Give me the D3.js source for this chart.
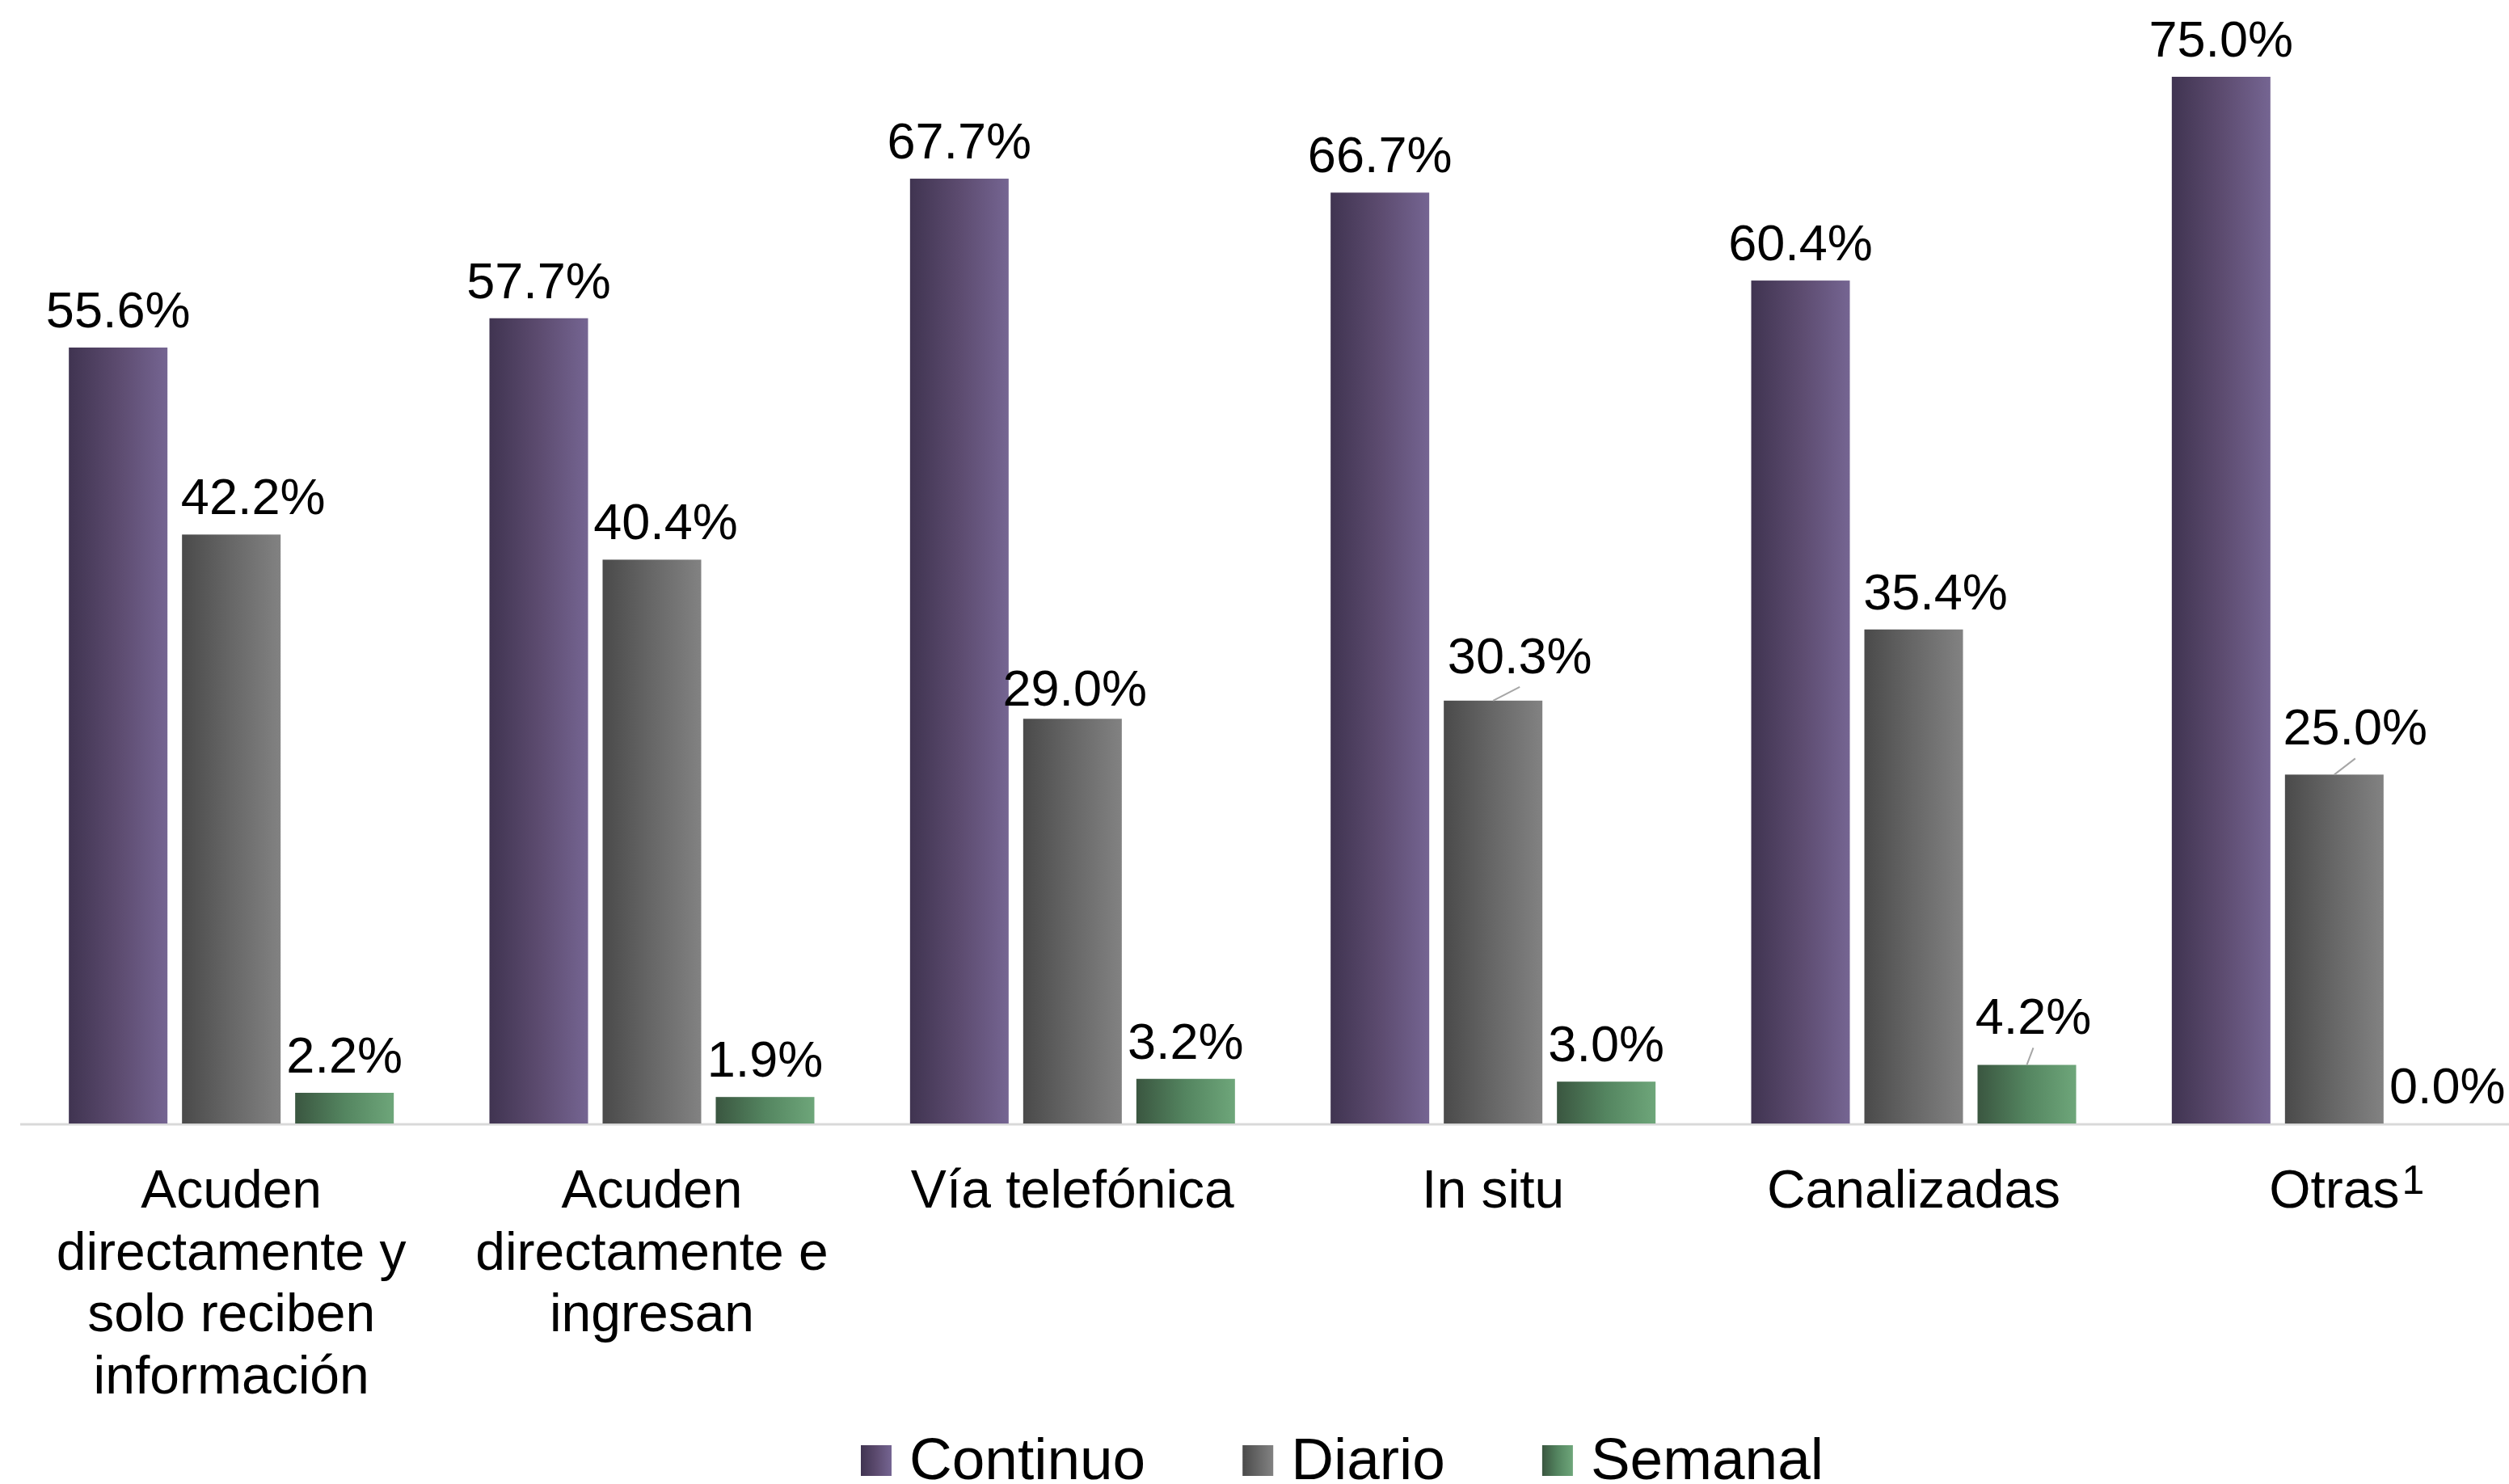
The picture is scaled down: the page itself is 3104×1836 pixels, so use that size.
<!DOCTYPE html>
<html>
<head>
<meta charset="utf-8">
<script src="https://cdn.jsdelivr.net/npm/d3@7"></script>
<style>
  body { margin: 0; background: #fff; }
  svg { display: block; font-family: "Liberation Sans", Arial, sans-serif; }
</style>
</head>
<body>
<svg width="3104" height="1836"></svg>
<script>
const categories = ["Acuden directamente y solo reciben información", "Acuden directamente e ingresan",
  "Vía telefónica", "In situ", "Canalizadas", "Otras"];
const categoryLines = [
  ["Acuden", "directamente y", "solo reciben", "información"],
  ["Acuden", "directamente e", "ingresan"],
  ["Vía telefónica"],
  ["In situ"],
  ["Canalizadas"],
  ["Otras"]
];
const seriesNames = ["Continuo", "Diario", "Semanal"];
const continuo = [55.6, 57.7, 67.7, 66.7, 60.4, 75.0];
const diario = [42.2, 40.4, 29.0, 30.3, 35.4, 25.0];
const semanal = [2.2, 1.9, 3.2, 3.0, 4.2, 0.0];
const seriesValues = [continuo, diario, semanal];

// labels moved off their default spot; the far ones get a leader line
const labelNudges = [
  { series: "Diario", cat: "Acuden directamente y solo reciben información", dx: 27, dy: 0 },
  { series: "Diario", cat: "Acuden directamente e ingresan", dx: 17, dy: 0 },
  { series: "Diario", cat: "Vía telefónica", dx: 3, dy: 9 },
  { series: "Diario", cat: "In situ", dx: 33, dy: -9, leader: true },
  { series: "Diario", cat: "Canalizadas", dx: 27, dy: 0 },
  { series: "Diario", cat: "Otras", dx: 26, dy: -12, leader: true },
  { series: "Semanal", cat: "Canalizadas", dx: 8, dy: -13, leader: true }
];

const gradStops = {
  Continuo: ["#403451", "#5c4b6f", "#756592"],
  Diario: ["#4a4a4a", "#676767", "#828282"],
  Semanal: ["#3a5640", "#548560", "#6ea67a"]
};

const svg = d3.select("svg");
const baseY = 1390;

const x0 = d3.scaleBand().domain(categories).range([26, 3148]).padding(0);
const half = x0.bandwidth() / 2;
const x1 = d3.scaleBand().domain(seriesNames)
  .range([half - 201, half + 201])
  .paddingInner(18 / 140).paddingOuter(0);
const y = d3.scaleLinear().domain([0, 75]).range([baseY, 95]);

const defs = svg.append("defs");
seriesNames.forEach(s => {
  const g = defs.append("linearGradient").attr("id", "g-" + s)
    .attr("x1", "0%").attr("x2", "100%").attr("y1", "0%").attr("y2", "0%");
  gradStops[s].forEach((c, i) => g.append("stop").attr("offset", (i * 50) + "%").attr("stop-color", c));
});

const rows = [];
categories.forEach((c, ci) => {
  seriesNames.forEach((s, si) => rows.push({ cat: c, series: s, value: seriesValues[si][ci] }));
});

// axis line
svg.append("line")
  .attr("x1", 25).attr("x2", 3104)
  .attr("y1", baseY + 1).attr("y2", baseY + 1)
  .attr("stroke", "#d9d9d9").attr("stroke-width", 3);

const bars = svg.append("g");
bars.selectAll("rect").data(rows).join("rect")
  .attr("x", d => x0(d.cat) + x1(d.series))
  .attr("y", d => y(d.value))
  .attr("width", x1.bandwidth())
  .attr("height", d => baseY - y(d.value))
  .attr("fill", d => "url(#g-" + d.series + ")");

// value labels
const labels = svg.append("g").attr("font-size", 63).attr("text-anchor", "middle").attr("fill", "#000");
rows.forEach(d => {
  const cx = x0(d.cat) + x1(d.series) + x1.bandwidth() / 2;
  const top = y(d.value);
  const n = labelNudges.find(k => k.series === d.series && k.cat === d.cat);
  const lx = cx + (n ? n.dx : 0);
  const ly = top - 25 + (n ? n.dy : 0);
  if (n && n.leader) {
    svg.append("line")
      .attr("x1", cx).attr("y1", top)
      .attr("x2", lx).attr("y2", ly + 17)
      .attr("stroke", "#a6a6a6").attr("stroke-width", 2);
  }
  labels.append("text").attr("x", lx).attr("y", ly).text(d.value.toFixed(1) + "%");
});

// category labels
const catG = svg.append("g").attr("font-size", 66).attr("text-anchor", "middle");
categories.forEach((c, ci) => {
  const cx = x0(c) + half;
  categoryLines[ci].forEach((line, li) => {
    const t = catG.append("text").attr("x", cx).attr("y", 1494 + li * 76.5).text(line);
    if (c === "Otras") {
      const w = t.node().getComputedTextLength();
      catG.append("text").attr("x", cx + w / 2 + 3).attr("y", 1477)
        .attr("font-size", 50).attr("text-anchor", "start").text("1");
    }
  });
});

// legend
const leg = svg.append("g").attr("transform", "translate(1065,0)");
let lx = 0;
seriesNames.forEach(s => {
  leg.append("rect").attr("x", lx).attr("y", 1788).attr("width", 38).attr("height", 38)
    .attr("fill", "url(#g-" + s + ")");
  const t = leg.append("text").attr("x", lx + 60).attr("y", 1830)
    .attr("font-size", 73).text(s);
  lx += 60 + t.node().getComputedTextLength() + 120;
});
</script>
</body>
</html>
